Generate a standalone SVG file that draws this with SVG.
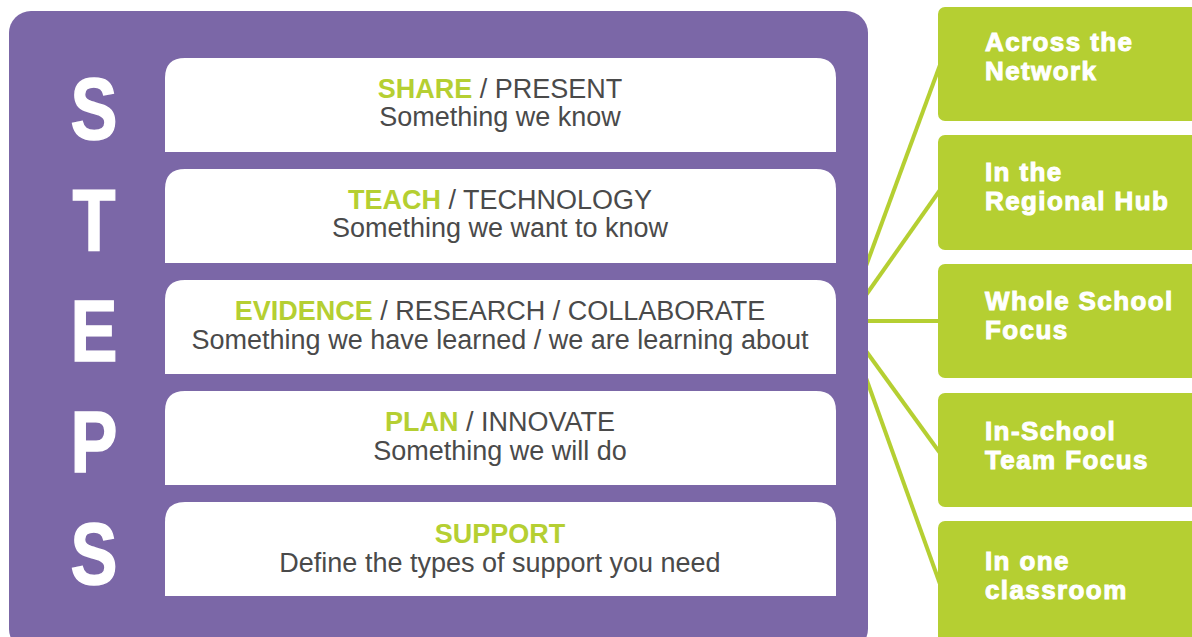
<svg xmlns="http://www.w3.org/2000/svg" width="1192" height="637" viewBox="0 0 1192 637">
  <style>
    .panel { fill: #7B67A7; }
    .card { fill: #FFFFFF; }
    .tag { fill: #B5CF32; }
    .letter { font-family: "Liberation Sans", Arial, sans-serif; font-weight: 700; font-size: 88px; fill: #FFFFFF; stroke: #FFFFFF; stroke-width: 1.5; text-anchor: middle; }
    .line1 { font-family: "Liberation Sans", Arial, sans-serif; font-size: 27px; fill: #4A4A4A; text-anchor: middle; }
    .hl { fill: #B5CF32; font-weight: 700; }
    .line2 { font-family: "Liberation Sans", Arial, sans-serif; font-size: 27px; fill: #4A4A4A; text-anchor: middle; }
    .tagtext { font-family: "Liberation Sans", Arial, sans-serif; font-weight: 700; font-size: 26px; fill: #FFFFFF; stroke: #FFFFFF; stroke-width: 1; letter-spacing: 1.4px; }
    .link { stroke: #B5CF32; stroke-width: 4; fill: none; }
  </style>
  <defs>
    <!-- card with rounded top corners, square bottom -->
    <path id="cardShape" d="M0,94 V20 Q0,0 20,0 H651 Q671,0 671,20 V94 Z"/>
  </defs>

  <!-- connectors -->
  <g id="connectors">
    <line class="link" x1="866" y1="266" x2="940" y2="65"/>
    <line class="link" x1="866" y1="295" x2="940" y2="190"/>
    <line class="link" x1="866" y1="321" x2="940" y2="321"/>
    <line class="link" x1="866" y1="351" x2="940" y2="453"/>
    <line class="link" x1="866" y1="378" x2="940" y2="584"/>
  </g>

  <!-- main panel -->
  <g id="steps-panel">
    <rect class="panel" x="9" y="11" width="859" height="640" rx="22"/>
    <g transform="translate(94,0) scale(0.8,1)">
      <text class="letter" x="0" y="139">S</text>
      <text class="letter" x="0" y="250">T</text>
      <text class="letter" x="0" y="361">E</text>
      <text class="letter" x="0" y="472">P</text>
      <text class="letter" x="0" y="584">S</text>
    </g>
  </g>

  <g id="share">
    <use href="#cardShape" class="card" x="165" y="58"/>
    <text class="line1" x="500" y="98"><tspan class="hl">SHARE</tspan> / PRESENT</text>
    <text class="line2" x="500" y="126">Something we know</text>
  </g>
  <g id="teach">
    <use href="#cardShape" class="card" x="165" y="169"/>
    <text class="line1" x="500" y="209"><tspan class="hl">TEACH</tspan> / TECHNOLOGY</text>
    <text class="line2" x="500" y="237">Something we want to know</text>
  </g>
  <g id="evidence">
    <use href="#cardShape" class="card" x="165" y="280"/>
    <text class="line1" x="500" y="320"><tspan class="hl">EVIDENCE</tspan> / RESEARCH / COLLABORATE</text>
    <text class="line2" x="500" y="349">Something we have learned / we are learning about</text>
  </g>
  <g id="plan">
    <use href="#cardShape" class="card" x="165" y="391"/>
    <text class="line1" x="500" y="431"><tspan class="hl">PLAN</tspan> / INNOVATE</text>
    <text class="line2" x="500" y="460">Something we will do</text>
  </g>
  <g id="support">
    <use href="#cardShape" class="card" x="165" y="502"/>
    <text class="line1" x="500" y="543"><tspan class="hl">SUPPORT</tspan></text>
    <text class="line2" x="500" y="572">Define the types of support you need</text>
  </g>

  <!-- scope tags -->
  <g id="across-network">
    <rect class="tag" x="938" y="7" width="270" height="114" rx="7"/>
    <text class="tagtext" x="985" y="51">Across the</text>
    <text class="tagtext" x="985" y="80">Network</text>
  </g>
  <g id="regional-hub">
    <rect class="tag" x="938" y="135" width="270" height="115" rx="7"/>
    <text class="tagtext" x="985" y="181">In the</text>
    <text class="tagtext" x="985" y="210">Regional Hub</text>
  </g>
  <g id="whole-school">
    <rect class="tag" x="938" y="264" width="270" height="114" rx="7"/>
    <text class="tagtext" x="985" y="310">Whole School</text>
    <text class="tagtext" x="985" y="339">Focus</text>
  </g>
  <g id="in-school-team">
    <rect class="tag" x="938" y="393" width="270" height="114" rx="7"/>
    <text class="tagtext" x="985" y="440">In-School</text>
    <text class="tagtext" x="985" y="469">Team Focus</text>
  </g>
  <g id="one-classroom">
    <rect class="tag" x="938" y="521" width="270" height="125" rx="7"/>
    <text class="tagtext" x="985" y="570">In one</text>
    <text class="tagtext" x="985" y="599">classroom</text>
  </g>
</svg>
